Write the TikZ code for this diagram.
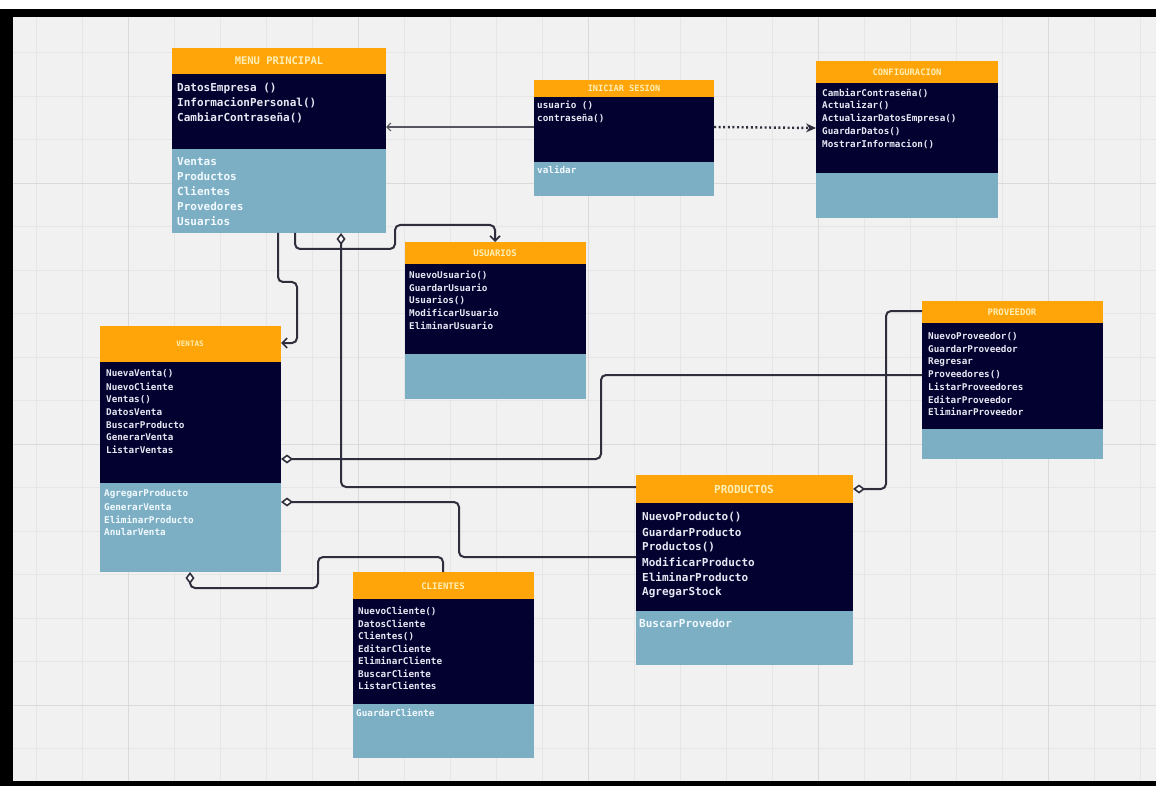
\documentclass[tikz,border=0pt]{standalone}
\usepackage{fontspec}
\setmonofont{DejaVu Sans Mono}
\usetikzlibrary{arrows.meta,calc}
\definecolor{bg}{HTML}{F1F1F1}
\definecolor{gridc}{HTML}{E6E6E6}
\definecolor{gridm}{HTML}{DADADA}
\definecolor{hdr}{HTML}{FFA50A}
\definecolor{navy}{HTML}{03012F}
\definecolor{lite}{HTML}{7DAFC4}
\definecolor{hdrtxt}{HTML}{FFEFB5}
\definecolor{memtxt}{HTML}{E8E8F4}
\definecolor{littxt}{HTML}{F2FAFF}
\definecolor{wire}{HTML}{2E2E3C}
\definecolor{thinwire}{HTML}{55555F}
\newcommand\classrect[7]{% name, x1, ytop, yhdr, ydark, ybot, x2
  \fill[hdr] (#2,#3) rectangle (#7,#4);
  \fill[navy] (#2,#4) rectangle (#7,#5);
  \fill[lite] (#2,#5) rectangle (#7,#6);
  \node[inner sep=0pt, outer sep=0pt, minimum width={(#7-#2)*1pt}, minimum height={(#6-#3)*1pt}, anchor=north west] (#1) at (#2,#3) {};}
\newcommand\lines[6]{% prefix, x, y0, dy, style, list
  \foreach \t [count=\i] in {#6} \node[#5, anchor=west] (#1\i) at (#2,{#3+(\i-1)*#4}) {\t};}
\tikzset{
  memS/.style={inner sep=0pt, text=memtxt, font=\ttfamily\bfseries\fontsize{9.3}{11}\selectfont},
  litS/.style={inner sep=0pt, text=littxt, font=\ttfamily\bfseries\fontsize{9.3}{11}\selectfont},
  memL/.style={inner sep=0pt, text=memtxt, font=\ttfamily\bfseries\fontsize{11}{13}\selectfont},
  litL/.style={inner sep=0pt, text=littxt, font=\ttfamily\bfseries\fontsize{11}{13}\selectfont},
  hdrtext/.style={inner sep=0pt, text=hdrtxt, font=\ttfamily\bfseries\fontsize{#1}{#1}\selectfont},
  conn/.style={draw=wire, line width=2pt, rounded corners=5pt},
  dia/.style={{Diamond[length=12pt,width=9pt,fill=white,line width=1.6pt]}-},
  barb/.style={-{Straight Barb[length=5pt,width=10pt,line width=1.6pt]}},
}
\begin{document}
\begin{tikzpicture}[x=1pt,y=-1pt]
\useasboundingbox (0,0) rectangle (1156,786);
\fill[white] (0,0) rectangle (1156,786);
\fill[bg] (13,17) rectangle (1156,781);
\foreach \x in {36,82,128,174,220,266,312,358,404,450,496,542,588,634,680,726,772,818,864,910,956,1002,1048,1094,1140}
  \draw[gridc, line width=0.6pt] (\x,17) -- (\x,781);
\foreach \y in {52.5,96,139.5,183,226.5,270,313.5,357,400.5,444,487.5,531,574.5,618,661.5,705,748.5}
  \draw[gridc, line width=0.6pt] (13,\y) -- (1156,\y);
\foreach \x in {128,358,588,818,1048} \draw[gridm, line width=0.9pt] (\x,17) -- (\x,781);
\foreach \y in {183,444,705} \draw[gridm, line width=0.9pt] (13,\y) -- (1156,\y);
\fill[black] (0,9) rectangle (1156,17);
\fill[black] (0,9) rectangle (13,786);
\fill[black] (0,781) rectangle (1156,786);

% classes
\classrect{menu}{172}{48}{74}{149}{233}{386}
\classrect{login}{534}{80}{97}{162}{196}{714}
\classrect{config}{816}{61}{83}{173}{218}{998}
\classrect{users}{405}{242}{264}{354}{399}{586}
\classrect{ventas}{100}{326}{362}{483}{572}{281}
\classrect{prov}{922}{301}{323}{429}{459}{1103}
\classrect{prod}{636}{475}{503}{611}{665}{853}
\classrect{cli}{353}{572}{599}{704}{758}{534}

% headers
\node[hdrtext=10.5] (menuT) at (279,61) {MENU PRINCIPAL};
\node[hdrtext=8.6] (loginT) at (624,88) {INICIAR SESION};
\node[hdrtext=8.8] (configT) at (907,72) {CONFIGURACION};
\node[hdrtext=9] (usersT) at (495,253) {USUARIOS};
\node[hdrtext=7.5] (ventasT) at (190,344) {VENTAS};
\node[hdrtext=9] (provT) at (1012,312) {PROVEEDOR};
\node[hdrtext=11] (prodT) at (744,489) {PRODUCTOS};
\node[hdrtext=9] (cliT) at (443,586) {CLIENTES};

% members
\lines{menuM}{177}{88}{15}{memL}{DatosEmpresa (),InformacionPersonal(),CambiarContraseña()}
\lines{menuA}{177}{162}{14.8}{litL}{Ventas,Productos,Clientes,Provedores,Usuarios}
\lines{loginM}{537}{105}{13}{memS}{usuario (),contraseña()}
\lines{loginA}{537}{170}{13}{litS}{validar}
\lines{configM}{822}{93}{12.75}{memS}{CambiarContraseña(),Actualizar(),ActualizarDatosEmpresa(),GuardarDatos(),MostrarInformacion()}
\lines{usersM}{409}{275}{12.7}{memS}{NuevoUsuario(),GuardarUsuario,Usuarios(),ModificarUsuario,EliminarUsuario}
\lines{ventasM}{106}{374}{12.7}{memS}{NuevaVenta(),NuevoCliente,Ventas(),DatosVenta,BuscarProducto,GenerarVenta,ListarVentas}
\lines{ventasA}{104}{494}{12.7}{litS}{AgregarProducto,GenerarVenta,EliminarProducto,AnularVenta}
\lines{provM}{928}{337}{12.5}{memS}{NuevoProveedor(),GuardarProveedor,Regresar,Proveedores(),ListarProveedores,EditarProveedor,EliminarProveedor}
\lines{prodM}{642}{517}{15}{memL}{NuevoProducto(),GuardarProducto,Productos(),ModificarProducto,EliminarProducto,AgregarStock}
\lines{prodA}{639}{623}{15}{litL}{BuscarProvedor}
\lines{cliM}{358}{611}{12.5}{memS}{NuevoCliente(),DatosCliente,Clientes(),EditarCliente,EliminarCliente,BuscarCliente,ListarClientes}
\lines{cliA}{356}{713}{12.5}{litS}{GuardarCliente}

% connectors
\draw[draw=thinwire, line width=1.2pt, -{Straight Barb[length=4pt,width=8pt,line width=1.2pt]}]
  ($(login.north west)+(0,47)$) -- ($(menu.north east)+(0,79)$);
\draw[draw=wire, line width=2.4pt, dash pattern=on 2pt off 2.6pt, -{Stealth[length=10pt,width=9pt,line width=0pt]}]
  ($(login.north east)+(0,47)$) -- ($(config.north west)+(0,67)$);
\draw[conn, barb] ($(menu.south west)+(106,0)$) -- ++(0,49) -- ++(19,0) -- ++(0,61) -- ($(ventas.north east)+(0,17)$);
\draw[conn, barb] ($(menu.south west)+(123,0)$) -- ++(0,16) -- ++(100,0) -- ++(0,-24) -- ++(100,0) -- ($(users.north west)+(90,0)$);
\draw[conn, dia] ($(menu.south west)+(169,0)$) -- ++(0,254) -- ($(prod.north west)+(0,12)$);
\draw[conn, dia] ($(ventas.north east)+(0,133)$) -- ++(320,0) -- ++(0,-84) -- ($(prov.north west)+(0,74)$);
\draw[conn, dia] ($(ventas.north east)+(0,176)$) -- ++(178,0) -- ++(0,55) -- ($(prod.north west)+(0,82)$);
\draw[conn, dia] ($(prod.north east)+(0,14)$) -- ++(33,0) -- ++(0,-178) -- ($(prov.north west)+(0,10)$);
\draw[conn, dia] ($(ventas.south west)+(90,0)$) -- ++(0,16) -- ++(128,0) -- ++(0,-31) -- ++(125,0) -- ($(cli.north west)+(90,0)$);
\end{tikzpicture}
\end{document}
